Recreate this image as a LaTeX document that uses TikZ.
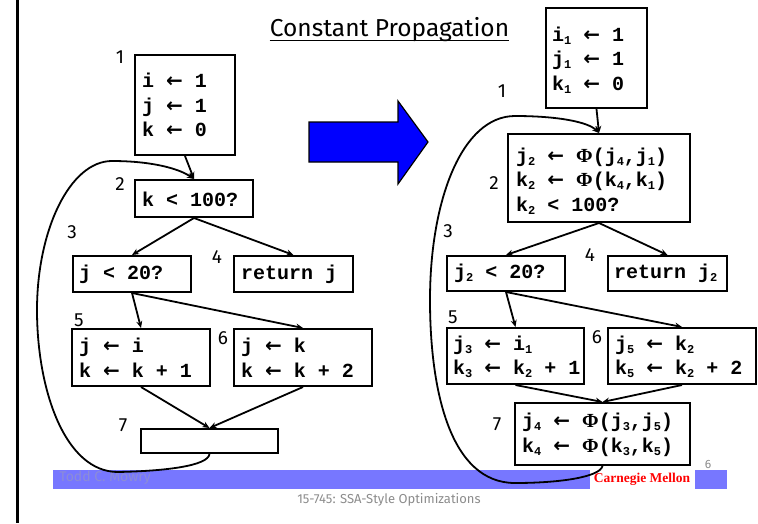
\documentclass[tikz,border=0pt]{standalone}
\usepackage{fontspec}
\setmainfont{Fira Sans}
\newfontfamily\codefont{Liberation Mono}
\newfontfamily\serffont{Liberation Serif}
\newfontfamily\arrfont{DejaVu Sans}
\usetikzlibrary{arrows.meta}
\definecolor{barblue}{RGB}{119,119,255}
\definecolor{toddcol}{RGB}{140,140,215}
\definecolor{footgrey}{RGB}{140,140,140}
\newcommand{\codestyle}{\codefont\bfseries\fontsize{20}{24.5}\selectfont}
\newcommand{\labstyle}{\fontsize{19}{19}\selectfont}
\newcommand{\sbs}[1]{\raisebox{-3pt}{\fontsize{12}{12}\selectfont #1}}
\newcommand{\la}{\ {\arrfont\bfseries ←}\ }
\newcommand{\Ph}{{\serffont\bfseries Φ}}
\begin{document}
\begin{tikzpicture}[x=1pt,y=1pt,
  box/.style={draw, line width=2pt, inner sep=0pt},
  code/.style={font=\codestyle, align=left, inner sep=0pt, anchor=west},
  lab/.style={font=\labstyle, inner sep=0pt},
  edge/.style={line width=1.8pt, -{Stealth[length=7pt,width=6pt]}},
  back/.style={line width=1.8pt, -{Stealth[length=7pt,width=6pt]}},
]
\useasboundingbox (0,0) rectangle (758,-523);

% left rule
\draw[line width=2.5pt] (17.5,0) -- (17.5,-523);

% footer
\fill[barblue] (53,-470) rectangle (727,-488.5);
\fill[white] (590,-469.5) rectangle (695,-489);
\node[font=\fontsize{14}{14}\selectfont, text=toddcol, inner sep=0pt] (todd) at (105,-478) {Todd C. Mowry};
\node[font=\serffont\bfseries\fontsize{13.5}{13.5}\selectfont, text=red, inner sep=0pt] (cmu) at (642,-479) {Carnegie Mellon};
\node[font=\fontsize{12}{12}\selectfont, text=footgrey, inner sep=0pt] (pg) at (708,-464) {6};
\node[font=\fontsize{13}{13}\selectfont, text=footgrey, inner sep=0pt] (course) at (389,-500) {15-745: SSA-Style Optimizations};

% title
\node[font=\fontsize{24.5}{24.5}\selectfont, inner sep=0pt, anchor=base] (title) at (389.5,-36) {Constant Propagation};
\draw[line width=1.4pt] ([yshift=-4.5pt]title.base west) -- ([yshift=-4.5pt]title.base east);

% blue arrow
\draw[fill=blue, line width=1.2pt] (309,-122) -- (398,-122) -- (398,-101) -- (428,-142) -- (398,-184) -- (398,-162) -- (309,-162) -- cycle;

% ---------- left graph ----------
\node[box, minimum width=100pt, minimum height=100pt] (b1) at (185,-105) {};
\node[box, minimum width=118pt, minimum height=37pt] (b2) at (194,-198.5) {};
\node[box, minimum width=118pt, minimum height=36pt] (b3) at (132,-274) {};
\node[box, minimum width=119pt, minimum height=36pt] (b4) at (293.5,-274) {};
\node[box, minimum width=138pt, minimum height=57pt] (b5) at (141,-357.5) {};
\node[box, minimum width=138pt, minimum height=57pt] (b6) at (303,-357.5) {};
\node[box, minimum width=137pt, minimum height=24pt] (b7) at (209.5,-441) {};

\node[code] (t1) at ([xshift=8pt]b1.west) {i\la 1\\j\la 1\\k\la 0};
\node[code] (t2) at ([xshift=8pt,yshift=-0.5pt]b2.west) {k < 100?};
\node[code] (t3) at ([xshift=7pt]b3.west) {j < 20?};
\node[code] (t4) at ([xshift=8pt]b4.west) {return j};
\node[code] (t5) at ([xshift=8pt]b5.west) {j\la i\\k\la k + 1};
\node[code] (t6) at ([xshift=8pt]b6.west) {j\la k\\k\la k + 2};

\node[lab] (l1) at (120,-57) {1};
\node[lab] (l2) at (120,-184) {2};
\node[lab] (l3) at (72,-232) {3};
\node[lab] (l4) at (217,-257) {4};
\node[lab] (l5) at (79,-320) {5};
\node[lab] (l6) at (223,-338) {6};
\node[lab] (l7) at (123,-425) {7};

\draw[edge] (b1.south) -- (b2.north);
\draw[edge] (b2.south) -- (b3.north);
\draw[edge] (b2.south) -- (b4.north);
\draw[edge] (b3.south) -- (b5.north);
\draw[edge] (b3.south) -- (b6.north);
\draw[edge] (b5.south) -- (b7.north);
\draw[edge] (b6.south) -- (b7.north);
\draw[back] (b7.south) .. controls (208,-466) and (165,-471) .. (118,-472)
  .. controls (65,-472) and (37,-390) .. (37,-310)
  .. controls (37,-230) and (70,-161) .. (112,-161)
  .. controls (150,-161) and (178,-168) .. (b2.north);

% ---------- right graph ----------
\node[box, minimum width=101pt, minimum height=100pt] (r1) at (596.5,-58) {};
\node[box, minimum width=182pt, minimum height=88pt] (r2) at (599,-178) {};
\node[box, minimum width=118pt, minimum height=35pt] (r3) at (506,-273.5) {};
\node[box, minimum width=119pt, minimum height=35pt] (r4) at (667.5,-273.5) {};
\node[box, minimum width=137pt, minimum height=56pt] (r5) at (515.5,-356) {};
\node[box, minimum width=148pt, minimum height=56pt] (r6) at (682,-356) {};
\node[box, minimum width=175pt, minimum height=62pt] (r7) at (602.5,-434) {};

\node[code] (s1) at ([xshift=7pt,yshift=-2pt]r1.west) {i\sbs{1}\la 1\\j\sbs{1}\la 1\\k\sbs{1}\la 0};
\node[code] (s2) at ([xshift=9pt,yshift=-3pt]r2.west) {j\sbs{2}\la \Ph(j\sbs{4},j\sbs{1})\\k\sbs{2}\la \Ph(k\sbs{4},k\sbs{1})\\k\sbs{2} < 100?};
\node[code] (s3) at ([xshift=8pt]r3.west) {j\sbs{2} < 20?};
\node[code] (s4) at ([xshift=7pt]r4.west) {return j\sbs{2}};
\node[code] (s5) at ([xshift=7pt,yshift=-1pt]r5.west) {j\sbs{3}\la i\sbs{1}\\k\sbs{3}\la k\sbs{2} + 1};
\node[code] (s6) at ([xshift=8pt,yshift=-1pt]r6.west) {j\sbs{5}\la k\sbs{2}\\k\sbs{5}\la k\sbs{2} + 2};
\node[code] (s7) at ([xshift=8pt,yshift=-1pt]r7.west) {j\sbs{4}\la \Ph(j\sbs{3},j\sbs{5})\\k\sbs{4}\la \Ph(k\sbs{3},k\sbs{5})};

\node[lab] (m1) at (502,-91) {1};
\node[lab] (m2) at (494,-183) {2};
\node[lab] (m3) at (448,-231) {3};
\node[lab] (m4) at (590,-255) {4};
\node[lab] (m5) at (453,-317) {5};
\node[lab] (m6) at (597,-337) {6};
\node[lab] (m7) at (497,-424) {7};

\draw[edge] (r1.south) -- (r2.north);
\draw[edge] (r2.south) -- (r3.north);
\draw[edge] (r2.south) -- (r4.north);
\draw[edge] (r3.south) -- (r5.north);
\draw[edge] (r3.south) -- (r6.north);
\draw[edge] (r5.south) -- (r7.north);
\draw[edge] (r6.south) -- (r7.north);
\draw[back] (r7.south) .. controls (600,-477) and (560,-483) .. (515,-483)
  .. controls (450,-483) and (430,-390) .. (430,-300)
  .. controls (430,-200) and (462,-116) .. (515,-116)
  .. controls (558,-116) and (588,-122) .. (r2.north);
\end{tikzpicture}
\end{document}
